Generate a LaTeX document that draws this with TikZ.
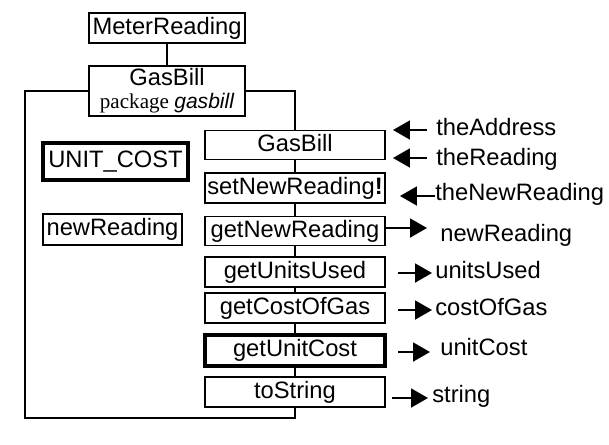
\documentclass[tikz,border=0pt]{standalone}
\usepackage{fontspec}
\setmainfont{Liberation Sans}
\newfontfamily\pkgserif{Liberation Serif}
\newfontfamily\pkgsans{Liberation Sans}
\usetikzlibrary{arrows.meta,positioning}

\begin{document}
\begin{tikzpicture}[x=0.02cm, y=-0.02cm,
    cls/.style={rectangle, draw, line width=1.1pt, inner sep=0pt, text height=9.7pt, text depth=2.8pt, font=\fontsize{13.5}{15}\selectfont},
    method/.style={cls, minimum width=3.6cm, minimum height=0.58cm},
    heavy/.style={line width=2pt},
    wire/.style={line width=1.1pt},
    arr/.style={line width=1.1pt, -{Triangle[length=0.34cm, width=0.38cm]}},
    lbl/.style={anchor=west, inner sep=0pt, text height=9.7pt, text depth=0pt, font=\fontsize{13.5}{15}\selectfont}
]
    \useasboundingbox (0,0) rectangle (609,444);

    % Classes
    \node[cls, minimum width=3.12cm, minimum height=0.6cm] (meter) at (167,28) {MeterReading};
    \node[cls, minimum width=3.12cm, minimum height=1cm, text height=, text depth=, align=center] (pkg) at (167,91)
        {GasBill\\[-2pt]{\fontsize{12}{13}\selectfont\pkgserif package \pkgsans\itshape gasbill}};

    % Champs
    \node[cls, heavy, minimum width=2.9cm, minimum height=0.74cm] (unitcost) at (115.5,161.5) {UNIT\_COST};
    \node[cls, minimum width=2.78cm, minimum height=0.62cm] (newreading) at (112.5,229.5) {newReading};

    % Methodes
    \node[method] (m1) at (295,145) {GasBill};
    \node[method, minimum height=0.6cm] (m2) at (295,188) {setNewReading\textbf{!}};
    \node[method] (m3) at (295,231) {getNewReading};
    \node[method, minimum height=0.6cm] (m4) at (295,272) {getUnitsUsed};
    \node[method, minimum height=0.6cm] (m5) at (295,308) {getCostOfGas};
    \node[method, heavy, minimum height=0.62cm] (m6) at (295,350.5) {getUnitCost};
    \node[method, minimum height=0.6cm] (m7) at (295,392) {toString};

    % Liens
    \draw[wire] (meter) -- (pkg);
    \coordinate (frame) at (25,418);
    \draw[wire] (pkg.west) -| (frame) -| (m7.south);
    \draw[wire] (pkg.east) -| (m1.north);
    \foreach \a/\b in {m1/m2, m2/m3, m3/m4, m4/m5, m5/m6, m6/m7} {
        \draw[wire] (\a.south) -- (\b.north);
    }

    % Parametres et resultats
    \foreach \nm/\tx/\hx/\ay/\lx/\ly/\txt in {
        addr/427/393/130/436/127/theAddress,
        read/427/393/158/436/157/theReading,
        newread/435/400/196/435/192/theNewReading,
        outnew/385/427/228/440/233/newReading,
        used/398/432/273/435/270/unitsUsed,
        cost/398/432/310/435/307/costOfGas,
        unit/398/430/352/440/347/unitCost,
        str/392/428/398/432/394/string} {
        \coordinate (\nm-t) at (\tx,\ay);
        \coordinate (\nm-h) at (\hx,\ay);
        \draw[arr] (\nm-t) -- (\nm-h);
        \node[lbl] (\nm) at (\lx,\ly) {\txt};
    }
\end{tikzpicture}
\end{document}
